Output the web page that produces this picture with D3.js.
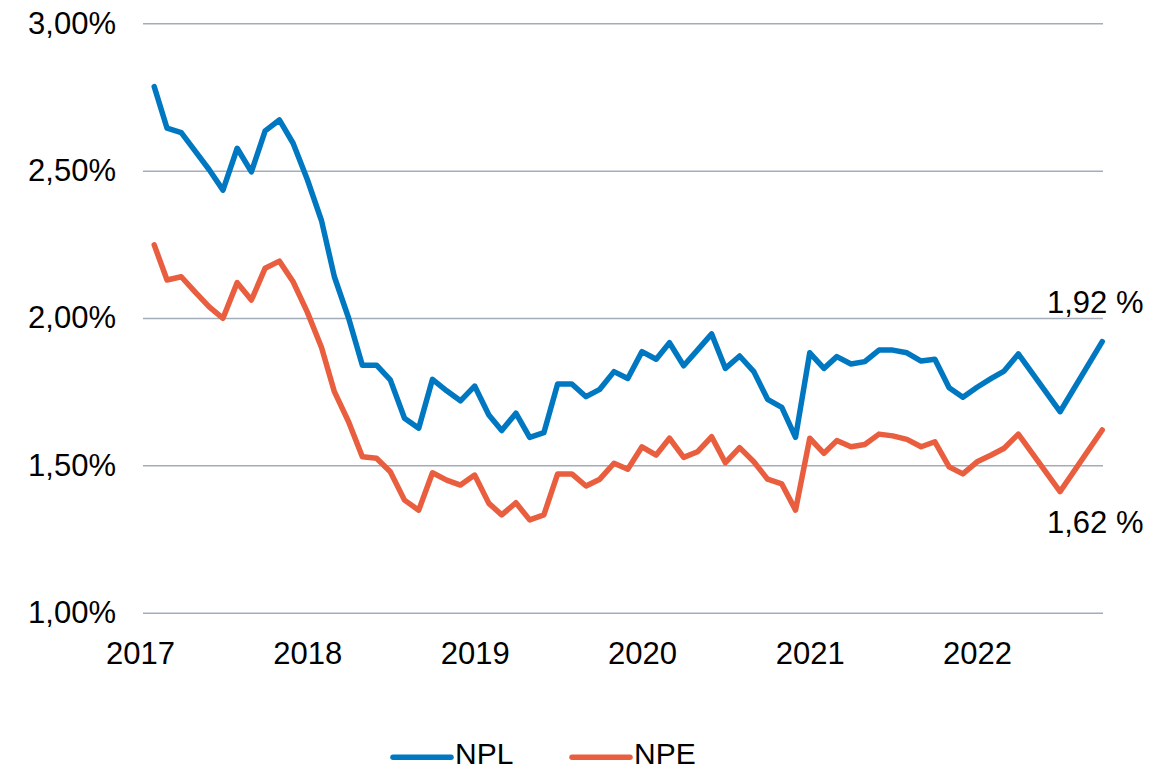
<!DOCTYPE html>
<html>
<head>
<meta charset="utf-8">
<script src="https://cdn.jsdelivr.net/npm/d3@7"></script>
<style>
  body { margin: 0; background: #fff; }
  text { font-family: "Liberation Sans", Arial, sans-serif; fill: #000; }
</style>
</head>
<body>
<div id="chart"></div>
<script>
// month of each observation (monthly until Apr 2022, then quarterly)
var months = [
    '2017-02', '2017-03', '2017-04', '2017-05', '2017-06', '2017-07', '2017-08', '2017-09', '2017-10', '2017-11', '2017-12',
    '2018-01', '2018-02', '2018-03', '2018-04', '2018-05', '2018-06', '2018-07', '2018-08', '2018-09', '2018-10', '2018-11', '2018-12',
    '2019-01', '2019-02', '2019-03', '2019-04', '2019-05', '2019-06', '2019-07', '2019-08', '2019-09', '2019-10', '2019-11', '2019-12',
    '2020-01', '2020-02', '2020-03', '2020-04', '2020-05', '2020-06', '2020-07', '2020-08', '2020-09', '2020-10', '2020-11', '2020-12',
    '2021-01', '2021-02', '2021-03', '2021-04', '2021-05', '2021-06', '2021-07', '2021-08', '2021-09', '2021-10', '2021-11', '2021-12',
    '2022-01', '2022-02', '2022-03', '2022-04', '2022-07', '2022-10'
];

// NPL ratio (%)
var nplValues = [
    2.785, 2.644, 2.629, 2.567, 2.503, 2.434, 2.576, 2.496, 2.635, 2.672, 2.593,
    2.47, 2.33, 2.14, 2.00, 1.84, 1.84, 1.79, 1.66, 1.626, 1.792, 1.753, 1.719,
    1.769, 1.671, 1.618, 1.677, 1.595, 1.611, 1.776, 1.776, 1.733, 1.758, 1.818, 1.795,
    1.886, 1.86, 1.916, 1.838, 1.891, 1.946, 1.829, 1.871, 1.818, 1.724, 1.697, 1.595,
    1.882, 1.829, 1.869, 1.844, 1.852, 1.891, 1.891, 1.882, 1.854, 1.86, 1.763, 1.731,
    1.765, 1.795, 1.82, 1.878, 1.682, 1.92
];

// NPE ratio (%)
var npeValues = [
    2.248, 2.129, 2.14, 2.089, 2.038, 1.999, 2.12, 2.061, 2.169, 2.193, 2.123,
    2.02, 1.90, 1.75, 1.648, 1.529, 1.524, 1.478, 1.382, 1.348, 1.475, 1.45, 1.433,
    1.467, 1.371, 1.332, 1.373, 1.315, 1.332, 1.471, 1.471, 1.43, 1.453, 1.507, 1.487,
    1.563, 1.535, 1.592, 1.527, 1.546, 1.597, 1.509, 1.56, 1.512, 1.453, 1.437, 1.348,
    1.592, 1.541, 1.584, 1.563, 1.571, 1.606, 1.60, 1.588, 1.563, 1.58, 1.495, 1.471,
    1.512, 1.535, 1.558, 1.606, 1.411, 1.62
];

var yTicks = [1.0, 1.5, 2.0, 2.5, 3.0];
var yearTicks = ['2017', '2018', '2019', '2020', '2021', '2022'];
var seriesNames = ['NPL', 'NPE'];
var endLabels = ['1,92 %', '1,62 %'];

var svgWidth = 1173;
var svgHeight = 771;
var colors = ['#0078c1', '#e95e3e'];

// plot area edges
var plotLeft = 143;
var plotRight = 1103;

var svg = d3.select('#chart')
    .append('svg')
    .attr('width', svgWidth)
    .attr('height', svgHeight);

var parseMonth = d3.timeParse('%Y-%m');
var parseYear = d3.timeParse('%Y');
var dates = months.map(parseMonth);

// one year is ~167.4px, Jan 2017 sits under the "2017" label
var xScale = d3.scaleTime()
    .domain([parseYear('2017'), parseYear('2023')])
    .range([140, 140 + 6 * 167.4]);

var yScale = d3.scaleLinear()
    .domain([1, 3])
    .range([612.7, 23.3]);

var locale = d3.formatLocale({ decimal: ',', thousands: '.', grouping: [3], currency: ['', '€'] });
var fmt = locale.format('.2f');

// y axis with gridlines
var yAxis = svg.append('g')
    .attr('transform', `translate(${plotLeft}, 0)`)
    .call(d3.axisLeft(yScale)
        .tickValues(yTicks)
        .tickSizeInner(-(plotRight - plotLeft))
        .tickSizeOuter(0)
        .tickPadding(27)
        .tickFormat(d => fmt(d) + '%'));

yAxis.select('.domain').remove();
yAxis.selectAll('.tick line')
    .attr('stroke', '#a3adb9')
    .attr('stroke-width', 1.5);
yAxis.selectAll('.tick text')
    .attr('font-size', '31px')
    .attr('font-family', '"Liberation Sans", Arial, sans-serif')
    .attr('fill', '#000');

// x axis (year labels only)
var xAxis = svg.append('g')
    .attr('transform', 'translate(0, 664)')
    .call(d3.axisBottom(xScale)
        .tickValues(yearTicks.map(parseYear))
        .tickSize(0)
        .tickFormat(d3.timeFormat('%Y')));

xAxis.select('.domain').remove();
xAxis.selectAll('.tick text')
    .attr('y', 0)
    .attr('dy', null)
    .attr('font-size', '31px')
    .attr('font-family', '"Liberation Sans", Arial, sans-serif')
    .attr('fill', '#000');

// lines
var series = [nplValues, npeValues];

var line = d3.line()
    .x((d, i) => xScale(dates[i]))
    .y(d => yScale(d));

svg.selectAll('.series')
    .data(series)
    .enter()
    .append('path')
    .classed('series', true)
    .attr('d', d => line(d))
    .attr('fill', 'none')
    .attr('stroke', (d, i) => colors[i])
    .attr('stroke-width', 5.5)
    .attr('stroke-linejoin', 'round')
    .attr('stroke-linecap', 'round');

// end value labels
svg.append('text')
    .attr('x', 1047)
    .attr('y', 312.7)
    .attr('font-size', '31px')
    .text(endLabels[0]);

svg.append('text')
    .attr('x', 1047)
    .attr('y', 533.3)
    .attr('font-size', '31px')
    .text(endLabels[1]);

// legend
var legendX = [393, 572];
var legend = svg.selectAll('.legend')
    .data(seriesNames)
    .enter()
    .append('g')
    .classed('legend', true)
    .attr('transform', (d, i) => `translate(${legendX[i]}, 757.3)`);

legend.append('line')
    .attr('x1', 0)
    .attr('x2', 58)
    .attr('y1', 0)
    .attr('y2', 0)
    .attr('stroke', (d, i) => colors[i])
    .attr('stroke-width', 5.5)
    .attr('stroke-linecap', 'round');

legend.append('text')
    .attr('x', 62)
    .attr('y', 7)
    .attr('font-size', '30px')
    .text(d => d);
</script>
</body>
</html>
